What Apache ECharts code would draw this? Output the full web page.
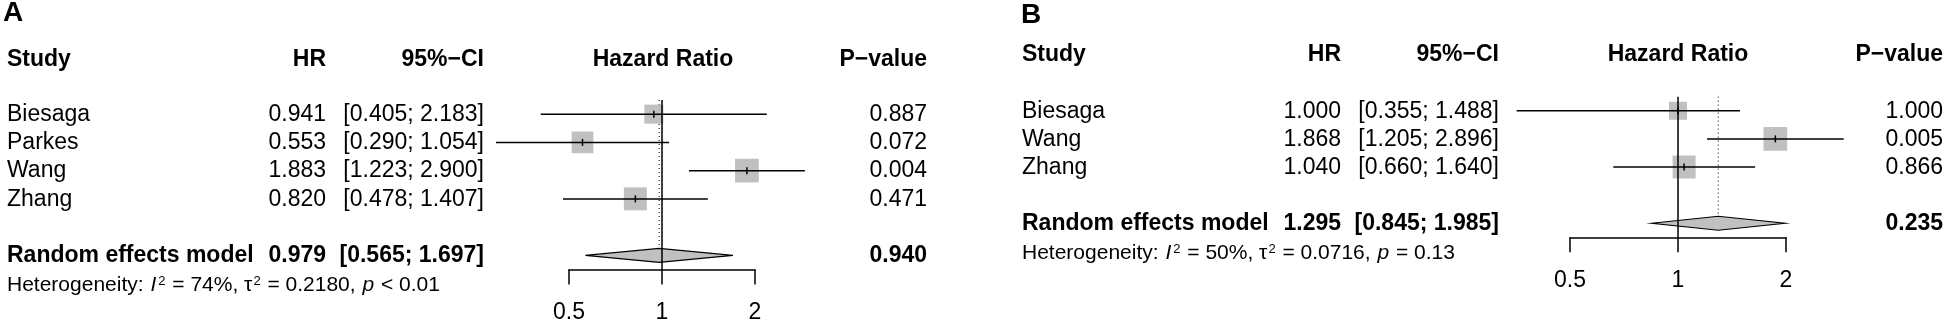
<!DOCTYPE html>
<html><head><meta charset="utf-8">
<script src="https://cdn.jsdelivr.net/npm/echarts@6/dist/echarts.min.js"></script>
<style>html,body{margin:0;padding:0;background:#fff}#c{width:1949px;height:327px}</style>
</head><body><div id="c"></div>
<script>
// ---------- data ----------
const studiesA = ['Biesaga', 'Parkes', 'Wang', 'Zhang'];
const hrA = [0.941, 0.553, 1.883, 0.820];
const lowerA = [0.405, 0.290, 1.223, 0.478];
const upperA = [2.183, 1.054, 2.900, 1.407];
const pValuesA = ['0.887', '0.072', '0.004', '0.471'];
const weightsA = [18.8, 24.5, 29.2, 27.5];      // estimated % weights (square areas)
const pooledA = [0.979, 0.565, 1.697];
const pooledPA = '0.940';
const hetA = ['74%', '0.2180', '< 0.01'];

const studiesB = ['Biesaga', 'Wang', 'Zhang'];
const hrB = [1.000, 1.868, 1.040];
const lowerB = [0.355, 1.205, 0.660];
const upperB = [1.488, 2.896, 1.640];
const pValuesB = ['1.000', '0.005', '0.866'];
const weightsB = [22.9, 39.7, 37.4];
const pooledB = [1.295, 0.845, 1.985];
const pooledPB = '0.235';
const hetB = ['50%', '0.0716', '= 0.13'];

const axisTicks = [0.5, 1, 2];
const headers = ['Study', 'HR', '95%\u2212CI', 'Hazard Ratio', 'P\u2212value'];
const panelLabels = ['A', 'B'];
const modelLabel = 'Random effects model';

// ---------- layout / style ----------
const FF = '"Liberation Sans", Arial, Helvetica, sans-serif';
const FS = 23;
const GRAY = '#c0c0c0';
const MAXSQ = 23.7;
const panels = [
  { studies: studiesA, hr: hrA, lo: lowerA, hi: upperA, p: pValuesA, w: weightsA, pooled: pooledA, pooledP: pooledPA, het: hetA,
    grid: { left: 569, width: 186, top: 100, height: 169.5 }, yMax: 5.5, pooledRow: 5,
    nameX: 7, hrX: 326, ciX: 484, pX: 927, headerY: 59.5, hrHeadCx: 663, labelX: 3, labelY: 13, hetDy: 1.5 },
  { studies: studiesB, hr: hrB, lo: lowerB, hi: upperB, p: pValuesB, w: weightsB, pooled: pooledB, pooledP: pooledPB, het: hetB,
    grid: { left: 1570, width: 216, top: 96.7, height: 140.6 }, yMax: 4.5, pooledRow: 4,
    nameX: 1022, hrX: 1341, ciX: 1499, pX: 1943, headerY: 54.7, hrHeadCx: 1678, labelX: 1021, labelY: 15.3, hetDy: 2 }
];

function txt(text, x, y, align, bold, size) {
  return { type: 'text', style: { text: text, x: x, y: y, align: align, textAlign: align,
    verticalAlign: 'middle', textVerticalAlign: 'middle',
    font: (bold ? 'bold ' : '') + (size || FS) + 'px ' + FF, fill: '#000' } };
}
const fmt = v => v.toFixed(3);
const ciText = (l, h) => '[' + fmt(l) + '; ' + fmt(h) + ']';

const grids = [], xAxes = [], yAxes = [], series = [], graphics = [];
panels.forEach((P, k) => {
  grids.push(P.grid);
  xAxes.push({
    gridIndex: k, type: 'log', logBase: 2, min: 0.5, max: 2, position: 'bottom',
    axisLine: { show: true, onZero: false, lineStyle: { color: '#000', width: 1.5 } },
    axisTick: { show: true, length: 15, lineStyle: { color: '#000', width: 1.5 }, customValues: axisTicks },
    axisLabel: { color: '#000', fontSize: FS, fontFamily: FF, margin: 32, customValues: axisTicks,
      formatter: v => String(+(+v).toPrecision(3)) },
    splitLine: { show: false }
  });
  yAxes.push({ gridIndex: k, type: 'value', inverse: true, min: -0.5, max: P.yMax, show: false });

  const maxW = Math.max.apply(null, P.w);
  // dotted line at pooled estimate
  series.push({ type: 'line', xAxisIndex: k, yAxisIndex: k, symbol: 'none', silent: true, z: 1,
    lineStyle: { color: '#000', width: 1, type: [1, 3] },
    data: [[P.pooled[0], -0.5], [P.pooled[0], P.pooledRow]] });
  // studies
  series.push({
    type: 'custom', xAxisIndex: k, yAxisIndex: k, z: 2, clip: false, silent: true,
    data: P.studies.map((s, i) => [P.hr[i], i, P.lo[i], P.hi[i], P.w[i]]),
    renderItem: (params, api) => {
      const i = params.dataIndex;
      const c = api.coord([api.value(0), api.value(1)]);
      const l = api.coord([api.value(2), api.value(1)]);
      const h = api.coord([api.value(3), api.value(1)]);
      const sz = MAXSQ * Math.sqrt(api.value(4) / maxW);
      return { type: 'group', children: [
        { type: 'rect', shape: { x: c[0] - sz / 2, y: c[1] - sz / 2, width: sz, height: sz }, style: { fill: GRAY } },
        { type: 'line', shape: { x1: l[0], y1: c[1], x2: h[0], y2: c[1] }, style: { stroke: '#000', lineWidth: 1.5 } },
        { type: 'line', shape: { x1: c[0], y1: c[1] - 3.5, x2: c[0], y2: c[1] + 3.5 }, style: { stroke: '#000', lineWidth: 1.5 } },
        txt(P.studies[i], P.nameX, c[1] + 0.5, 'left', false),
        txt(fmt(P.hr[i]), P.hrX, c[1] + 0.5, 'right', false),
        txt(ciText(P.lo[i], P.hi[i]), P.ciX, c[1] + 0.5, 'right', false),
        txt(P.p[i], P.pX, c[1] + 0.5, 'right', false)
      ] };
    }
  });
  // pooled diamond
  series.push({
    type: 'custom', xAxisIndex: k, yAxisIndex: k, z: 3, clip: false, silent: true,
    data: [[P.pooled[0], P.pooledRow, P.pooled[1], P.pooled[2]]],
    renderItem: (params, api) => {
      const c = api.coord([api.value(0), api.value(1)]);
      const l = api.coord([api.value(2), api.value(1)]);
      const h = api.coord([api.value(3), api.value(1)]);
      const hetY = api.coord([api.value(0), api.value(1) + 1])[1] + P.hetDy;
      const hh = 7;
      return { type: 'group', children: [
        { type: 'polygon', shape: { points: [[l[0], c[1]], [c[0], c[1] - hh], [h[0], c[1]], [c[0], c[1] + hh]] },
          style: { fill: GRAY, stroke: '#000', lineWidth: 1.2 } },
        txt(modelLabel, P.nameX, c[1] + 0.5, 'left', true),
        txt(fmt(P.pooled[0]), P.hrX, c[1] + 0.5, 'right', true),
        txt(ciText(P.pooled[1], P.pooled[2]), P.ciX, c[1] + 0.5, 'right', true),
        txt(P.pooledP, P.pX, c[1] + 0.5, 'right', true),
        { type: 'text', style: {
          x: P.nameX, y: hetY, align: 'left', textAlign: 'left', verticalAlign: 'middle', textVerticalAlign: 'middle',
          text: '{n|Heterogeneity: }{i|I}{s|2}{n| = ' + P.het[0] + ', \u03c4}{s|2}{n| = ' + P.het[1] + ', }{i|p}{n| ' + P.het[2] + '}',
          fill: '#000',
          rich: {
            n: { fontSize: 21, fontFamily: FF, lineHeight: 21, color: '#000' },
            i: { fontSize: 21, fontFamily: FF, fontStyle: 'italic', lineHeight: 21, color: '#000', padding: [0, 1, 0, 1] },
            s: { fontSize: 13, fontFamily: FF, lineHeight: 13, verticalAlign: 'top', color: '#000', padding: [0, 1, 0, 1] }
          } } }
      ] };
    }
  });
  // reference line at 1 (drawn on top)
  series.push({ type: 'line', xAxisIndex: k, yAxisIndex: k, symbol: 'none', silent: true, z: 5,
    lineStyle: { color: '#000', width: 1.5 },
    data: [[1, -0.5], [1, P.yMax]] });

  // headers & panel label
  graphics.push(
    txt(panelLabels[k], P.labelX, P.labelY, 'left', true, 28),
    txt(headers[0], P.nameX, P.headerY, 'left', true),
    txt(headers[1], P.hrX, P.headerY, 'right', true),
    txt(headers[2], P.ciX, P.headerY, 'right', true),
    txt(headers[3], P.hrHeadCx, P.headerY, 'center', true),
    txt(headers[4], P.pX, P.headerY, 'right', true)
  );
});

const chart = echarts.init(document.getElementById('c'), null, { renderer: 'canvas' });
chart.setOption({
  animation: false,
  backgroundColor: '#fff',
  grid: grids, xAxis: xAxes, yAxis: yAxes, series: series,
  graphic: { elements: graphics }
});
</script></body></html>
